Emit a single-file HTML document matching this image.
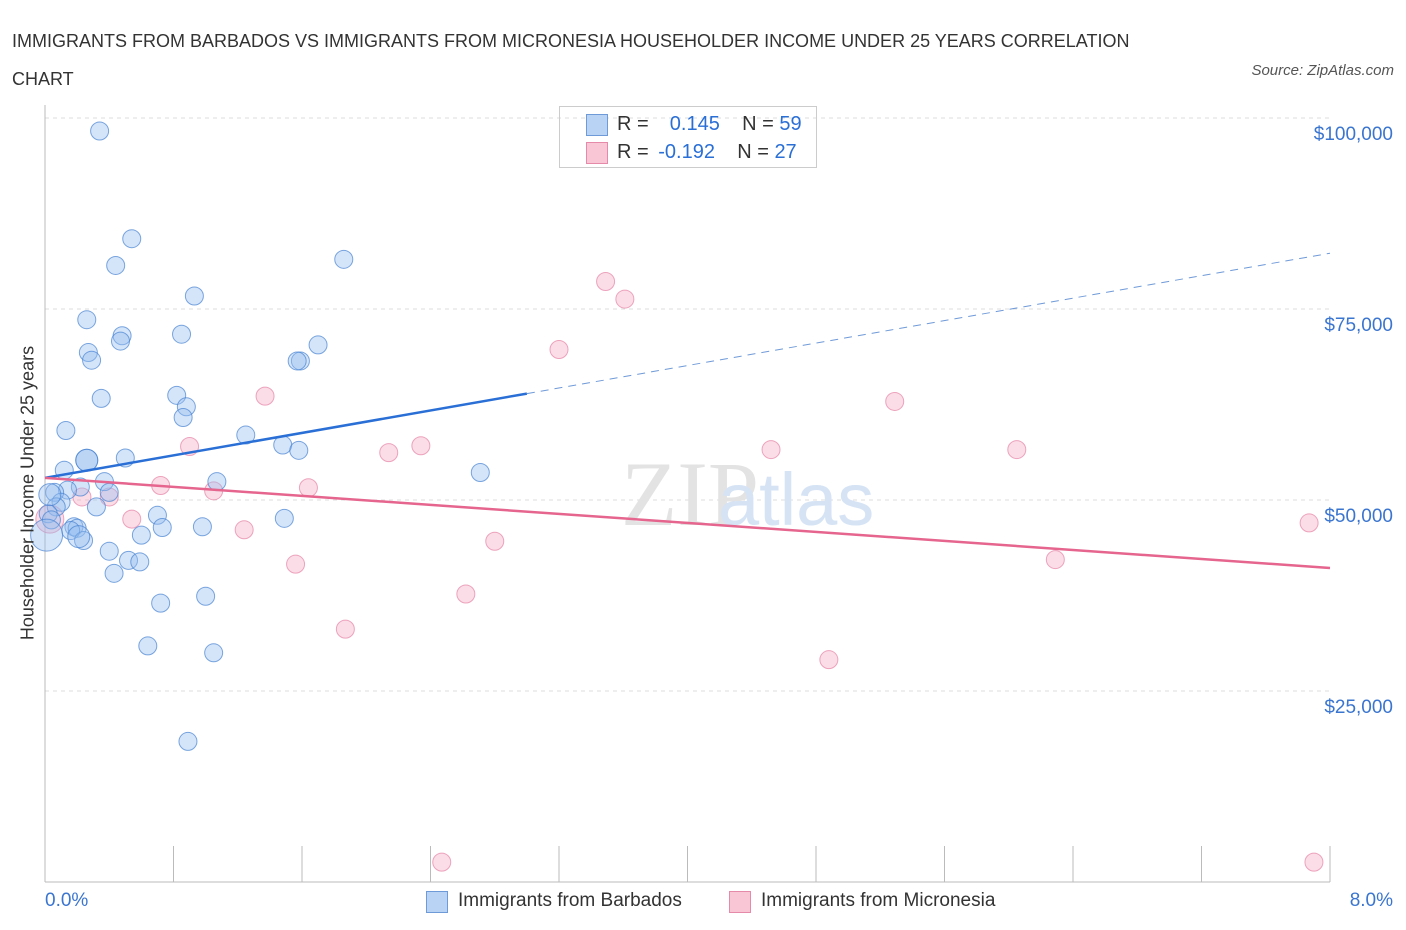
<!DOCTYPE html>
<html><head><meta charset="utf-8">
<style>
body{margin:0;background:#fff;font-family:"Liberation Sans",sans-serif;}
#wrap{position:relative;width:1406px;height:930px;overflow:hidden}
.t{position:absolute;white-space:nowrap}
</style></head><body>
<div id="wrap">
<div class="t" style="left:12px;top:22px;font-size:18px;color:#333;line-height:38px;width:1180px;white-space:normal">IMMIGRANTS FROM BARBADOS VS IMMIGRANTS FROM MICRONESIA HOUSEHOLDER INCOME UNDER 25 YEARS CORRELATION CHART</div>
<div class="t" style="right:12px;top:62px;font-size:15px;color:#555;font-style:italic">Source: ZipAtlas.com</div>
<svg id="svg" width="1406" height="930" style="position:absolute;left:0;top:0"></svg>
</div>
<script>
const blueX=[0.34,0.54,0.44,1.86,0.93,0.26,0.48,0.47,0.85,0.27,0.29,1.70,1.59,1.57,0.35,0.82,0.88,0.86,0.13,1.25,1.48,1.58,0.12,0.26,0.50,1.07,2.71,0.22,0.37,0.40,0.14,0.06,0.10,0.32,0.07,0.02,0.04,0.70,0.73,0.98,1.49,0.18,0.20,0.16,0.24,0.60,0.40,0.52,0.59,0.43,0.72,1.00,0.64,1.05,0.89,0.01,0.26,0.03,0.21];
const blueY=[98.3,84.2,80.7,81.5,76.7,73.6,71.5,70.8,71.7,69.3,68.3,70.3,68.2,68.2,63.3,63.7,62.2,60.8,59.1,58.5,57.2,56.5,53.9,55.2,55.5,52.4,53.6,51.7,52.4,51.0,51.3,51.0,49.7,49.1,49.1,48.2,47.4,48.0,46.4,46.5,47.6,46.5,46.3,46.0,44.7,45.4,43.3,42.1,41.9,40.4,36.5,37.4,30.9,30.0,18.4,45.4,55.2,50.7,45.2];
const blueR=[9,9,9,9,9,9,9,9,9,9,9,9,9,9,9,9,9,9,9,9,9,9,9,11,9,9,9,9,9,9,9,9,9,9,9,9,9,9,9,9,9,9,9,9,9,9,9,9,9,9,9,9,9,9,9,16,11,11,11];
const pinkX=[3.49,3.61,3.20,1.37,5.29,0.90,2.34,2.14,4.52,6.05,0.72,1.64,1.05,0.40,0.23,0.54,1.24,7.87,2.80,6.29,1.56,2.62,1.87,4.88,2.47,7.90,0.03];
const pinkY=[78.6,76.3,69.7,63.6,62.9,57.0,57.1,56.2,56.6,56.6,51.9,51.6,51.2,50.4,50.4,47.5,46.1,47.0,44.6,42.2,41.6,37.7,33.1,29.1,2.6,2.6,47.5];
const pinkR=[9,9,9,9,9,9,9,9,9,9,9,9,9,9,9,9,9,9,9,9,9,9,9,9,9,9,14];
const blueTrend=[52.9,82.3], pinkTrend=[52.9,41.1], blueSolidEnd=3.0;
const yTicks=[25000,50000,75000,100000];
const yTickLabels=["$25,000","$50,000","$75,000","$100,000"];
const X=v=>45+v/8*1285, Y=k=>882-k*7.64;
const svg=document.getElementById('svg');const NS='http://www.w3.org/2000/svg';
function mk(t,a){const e=document.createElementNS(NS,t);for(const k in a)e.setAttribute(k,a[k]);svg.appendChild(e);return e;}
yTicks.forEach((v,i)=>{const y=Y(v/1000);
 const g=mk('line',{x1:45,x2:1330,y1:y,y2:y,stroke:'#ddd','stroke-dasharray':'4,4'});
 
 
 const t=mk('text',{x:1393,y:y+22,'text-anchor':'end','font-size':19,fill:'#3a75d0'});t.textContent=yTickLabels[i];
 
 
});
let ax=mk('line',{x1:45,x2:45,y1:105,y2:882,stroke:'#bbb'});


ax=mk('line',{x1:45,x2:1330,y1:882,y2:882,stroke:'#bbb'});


for(let i=0;i<=10;i++){const x=X(i*0.8);const l=mk('line',{x1:x,x2:x,y1:846,y2:882,stroke:'#bbb'});
 
 }
let wm=mk('text',{x:690,y:525,'text-anchor':'middle','font-size':92,fill:'#e3e3e3','font-family':'Liberation Serif'});wm.textContent='ZIP';


wm=mk('text',{x:718,y:525,'font-size':74,fill:'#d5e3f5'});wm.textContent='atlas';


pinkX.forEach((v,i)=>{const c=mk('circle',{cx:X(v),cy:Y(pinkY[i]),r:pinkR[i],fill:'rgba(246,170,195,0.4)',stroke:'rgba(230,130,165,0.7)','stroke-width':1});
 
 });
blueX.forEach((v,i)=>{const c=mk('circle',{cx:X(v),cy:Y(blueY[i]),r:blueR[i],fill:'rgba(150,190,240,0.4)',stroke:'rgba(70,130,210,0.7)','stroke-width':1});
 
 });
const by=x=>blueTrend[0]+(blueTrend[1]-blueTrend[0])*x/8;
let tl=mk('line',{x1:X(0),y1:Y(by(0)),x2:X(blueSolidEnd),y2:Y(by(blueSolidEnd)),stroke:'#2a6fd6','stroke-width':2.5});


tl=mk('line',{x1:X(blueSolidEnd),y1:Y(by(blueSolidEnd)),x2:X(8),y2:Y(by(8)),stroke:'#6f9ad8','stroke-width':1,'stroke-dasharray':'8,6'});


tl=mk('line',{x1:X(0),y1:Y(pinkTrend[0]),x2:X(8),y2:Y(pinkTrend[1]),stroke:'#e5658e','stroke-width':2.5});


</script>
<div class="t" style="left:28px;top:493px;font-size:18px;color:#333;transform:translate(-50%,-50%) rotate(-90deg)">Householder Income Under 25 years</div>
<div class="t" style="left:45px;top:890px;font-size:19px;color:#3a75d0">0.0%</div>
<div class="t" style="right:13px;top:890px;font-size:19px;color:#3a75d0">8.0%</div>
<div style="position:absolute;left:559px;top:106px;width:258px;height:62px;border:1px solid #ccc;box-sizing:border-box;font-size:20px;color:#333">
 <div style="position:absolute;left:26px;top:7px;width:20px;height:20px;background:#b9d3f5;border:1px solid #6f9ad8"></div>
 <div class="t" style="left:57px;top:6px">R = <span style="color:#2a6fd6;margin-left:10px">&nbsp;0.145</span>&nbsp;&nbsp;&nbsp; N = <span style="color:#2a6fd6">59</span></div>
 <div style="position:absolute;left:26px;top:35px;width:20px;height:20px;background:#f9c6d6;border:1px solid #e58aa8"></div>
 <div class="t" style="left:57px;top:34px">R = <span style="color:#2a6fd6;margin-left:4px">-0.192</span>&nbsp;&nbsp;&nbsp; N = <span style="color:#2a6fd6">27</span></div>
</div>
<div style="position:absolute;left:426px;top:891px;width:20px;height:20px;background:#b9d3f5;border:1px solid #6f9ad8"></div>
<div class="t" style="left:458px;top:890px;font-size:19px;color:#333">Immigrants from Barbados</div>
<div style="position:absolute;left:729px;top:891px;width:20px;height:20px;background:#f9c6d6;border:1px solid #e58aa8"></div>
<div class="t" style="left:761px;top:890px;font-size:19px;color:#333">Immigrants from Micronesia</div>
</body></html>
